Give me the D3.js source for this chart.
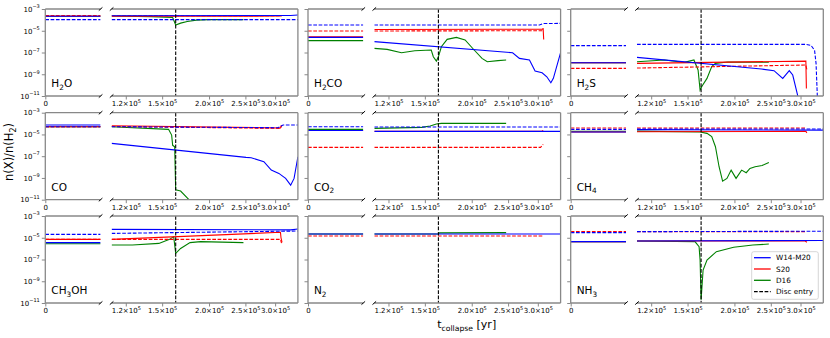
<!DOCTYPE html>
<html>
<head>
<meta charset="utf-8">
<script src="https://cdn.jsdelivr.net/npm/d3@7"></script>
<style>
  body { margin: 0; background: #fff; }
  svg { display: block; font-family: "DejaVu Sans", sans-serif; }
</style>
</head>
<body>
<svg id="fig" width="830" height="338"></svg>
<script>
const models = ["W14-M20", "S20", "D16"];
const modelColors = ["#0000ff", "#ff0000", "#008000"];
const species = ["H2O", "H2CO", "H2S", "CO", "CO2", "CH4", "CH3OH", "N2", "NH3"];
const xTicks = [1.2e5, 1.5e5, 2.0e5, 2.5e5, 3.0e5];
const yTicks = [1e-3, 1e-5, 1e-7, 1e-9, 1e-11];
const discEntry = 1.63e5;

// series: [model, dashed, log10 value at t=0, [[t / 1e5 yr, log10 n(X)/n(H2)], ...]]
const H2O = [
  ["D16", false, -3.67, [[1.1, -3.64], [1.4, -3.7], [1.6, -3.78], [1.63, -4.47], [1.68, -4.3], [1.75, -4.15], [1.85, -4.02], [2.0, -3.98], [2.47, -3.98]]],
  ["S20", false, -3.67, [[1.1, -3.67], [3.05, -3.65], [3.1, -3.62], [3.12, -3.68]]],
  ["S20", true, -3.6, [[1.1, -3.62], [3.1, -3.62]]],
  ["W14-M20", false, -3.67, [[1.1, -3.62], [3.3, -3.6], [3.45, -3.55]]],
  ["W14-M20", true, -3.98, [[1.1, -3.98], [3.45, -3.98]]]
];
const H2CO = [
  ["D16", false, -5.91, [[1.1, -6.62], [1.19, -6.71], [1.3, -7.02], [1.41, -6.84], [1.56, -6.77], [1.58, -7.39], [1.61, -7.79], [1.63, -7.4], [1.66, -6.47], [1.72, -5.79], [1.82, -5.61], [1.92, -5.85], [2.03, -6.77], [2.13, -7.54], [2.2, -7.85], [2.35, -7.75], [2.47, -7.69]]],
  ["S20", false, -5.55, [[1.1, -4.88], [3.08, -4.85], [3.1, -4.82], [3.11, -5.8]]],
  ["S20", true, -5.02, [[1.1, -5.02], [3.1, -5.0]]],
  ["W14-M20", false, -5.61, [[1.1, -6.0], [2.57, -7.02], [2.68, -7.54], [2.85, -7.69], [2.95, -8.7], [3.08, -8.86], [3.17, -9.23], [3.25, -9.78], [3.3, -9.38], [3.45, -7.02]]],
  ["W14-M20", true, -4.47, [[1.1, -4.47], [3.03, -4.47], [3.1, -4.34], [3.45, -4.32]]]
];
const H2S = [
  ["D16", false, -7.94, [[1.1, -7.85], [1.3, -7.69], [1.47, -7.91], [1.56, -7.69], [1.6, -8.61], [1.62, -10.45], [1.64, -10.08], [1.69, -9.38], [1.74, -8.3], [1.78, -8.0], [1.92, -7.88], [2.47, -7.9]]],
  ["S20", false, -7.94, [[1.1, -8.0], [3.1, -7.79], [3.11, -10.3]]],
  ["S20", true, -8.46, [[1.1, -8.43], [3.1, -8.15], [3.12, -8.6]]],
  ["W14-M20", false, -7.94, [[1.1, -7.45], [2.36, -8.52], [2.55, -8.67], [2.69, -9.38], [2.8, -8.67], [2.86, -9.07], [2.96, -11.2]]],
  ["W14-M20", true, -6.37, [[1.1, -6.25], [3.1, -6.25], [3.2, -6.35], [3.27, -6.8], [3.3, -8.0], [3.33, -11.5]]]
];
const CO = [
  ["D16", false, -4.29, [[1.1, -4.29], [1.56, -4.53], [1.59, -5.06], [1.6, -6.0], [1.62, -6.13], [1.63, -10.1], [1.68, -10.2], [1.78, -11.1]]],
  ["S20", false, -4.29, [[1.1, -4.2], [3.1, -4.4], [3.12, -4.2]]],
  ["S20", true, -4.29, [[1.1, -4.27], [3.1, -4.44], [3.12, -4.15]]],
  ["W14-M20", false, -4.13, [[1.1, -5.82], [2.51, -7.11], [2.59, -7.14], [2.8, -7.5], [2.93, -8.28], [3.07, -8.58], [3.2, -9.04], [3.3, -9.66], [3.37, -9.04], [3.45, -7.05]]],
  ["W14-M20", true, -4.29, [[1.1, -4.29], [3.05, -4.38], [3.15, -4.13], [3.45, -4.13]]]
];
const CO2 = [
  ["D16", false, -4.53, [[1.1, -4.44], [1.47, -4.35], [1.55, -4.23], [1.61, -4.04], [1.66, -3.98], [2.47, -3.98]]],
  ["S20", false, -4.63, [[1.1, -4.7], [3.08, -4.7], [3.1, -4.62]]],
  ["S20", true, -6.19, [[1.1, -6.19], [3.05, -6.19], [3.1, -5.91]]],
  ["W14-M20", false, -4.63, [[1.1, -4.72], [3.45, -4.72]]],
  ["W14-M20", true, -4.29, [[1.1, -4.32], [3.45, -4.32]]]
];
const CH4 = [
  ["D16", false, -4.7, [[1.1, -4.69], [1.62, -4.78], [1.69, -4.9], [1.74, -5.2], [1.78, -6.13], [1.82, -7.97], [1.86, -9.29], [1.91, -9.04], [1.96, -8.28], [2.02, -9.04], [2.09, -8.28], [2.15, -8.52], [2.2, -8.12], [2.27, -7.97], [2.37, -7.85], [2.47, -7.57]]],
  ["S20", false, -4.78, [[1.1, -4.75], [3.1, -4.72], [3.12, -4.85]]],
  ["S20", true, -4.41, [[1.1, -4.41], [3.1, -4.41]]],
  ["W14-M20", false, -4.78, [[1.1, -4.56], [3.45, -4.6]]],
  ["W14-M20", true, -4.53, [[1.1, -4.5], [3.45, -4.5]]]
];
const CH3OH = [
  ["D16", false, -5.55, [[1.1, -5.67], [1.25, -5.67], [1.47, -5.52], [1.57, -5.15], [1.61, -4.9], [1.63, -6.44], [1.68, -5.98], [1.78, -5.45], [1.9, -5.36], [2.47, -5.45]]],
  ["S20", false, -5.15, [[1.1, -5.15], [3.1, -4.5], [3.11, -5.0], [3.13, -5.42]]],
  ["S20", true, -5.15, [[1.1, -5.15], [3.1, -5.15], [3.12, -5.5]]],
  ["W14-M20", false, -5.45, [[1.1, -4.23], [3.3, -4.28], [3.45, -4.2]]],
  ["W14-M20", true, -4.69, [[1.1, -4.6], [3.45, -4.38]]]
];
const N2 = [
  ["D16", false, -4.66, [[1.1, -4.66], [1.63, -4.66], [1.64, -4.55], [2.47, -4.53]]],
  ["S20", true, -4.84, [[1.1, -4.84], [3.1, -4.84]]],
  ["W14-M20", false, -4.66, [[1.1, -4.66], [3.45, -4.66]]]
];
const NH3 = [
  ["D16", false, -5.36, [[1.1, -5.3], [1.57, -5.36], [1.61, -5.82], [1.62, -7.05], [1.63, -10.7], [1.65, -7.97], [1.69, -7.05], [1.79, -6.28], [1.99, -5.88], [2.24, -5.67], [2.47, -5.58]]],
  ["S20", false, -5.36, [[1.1, -5.3], [3.08, -5.28], [3.12, -5.42]]],
  ["S20", true, -4.44, [[1.1, -4.44], [3.1, -4.44]]],
  ["W14-M20", false, -5.36, [[1.1, -5.3], [3.45, -5.25]]],
  ["W14-M20", true, -4.53, [[1.1, -4.44], [3.45, -4.4]]]
];
const panels = [H2O, H2CO, H2S, CO, CO2, CH4, CH3OH, N2, NH3];

// layout
const colX = [45.3, 308, 570.7];
const rowY = [9, 112.7, 216];
const leftW = 55.3, gap = 11, rightW = 186.3, panelH = 87;
const spine = "#888";

const svg = d3.select("#fig");
svg.append("rect").attr("width", 830).attr("height", 338).attr("fill", "#fff");

const color = d3.scaleOrdinal().domain(models).range(modelColors);
const y = d3.scaleLog().domain([1e-11, 1e-3]).range([panelH, 0]);
const xL = d3.scaleLinear().domain([0, 1]).range([0, leftW]);
const xR = d3.scaleLog().domain([1.1e5, 3.45e5]).range([0, rightW]);

const lineR = d3.line()
  .x(d => xR(d[0] * 1e5))
  .y(d => y(Math.pow(10, d[1])));

function styleAxis(g) {
  g.select(".domain").remove();
  g.selectAll(".tick line").attr("stroke", spine).attr("stroke-width", 1);
  g.selectAll(".tick text").attr("fill", "#000").attr("font-size", 7)
    .attr("font-family", "DejaVu Sans, sans-serif");
}

function chemLabel(sel, name, size) {
  let sub = false;
  for (const ch of name) {
    const isDigit = /[0-9]/.test(ch);
    const ts = sel.append("tspan").text(ch);
    if (isDigit && !sub) { ts.attr("dy", 2.5).attr("font-size", size * 0.7); sub = true; }
    else if (isDigit) { ts.attr("font-size", size * 0.7); }
    else if (sub) { ts.attr("dy", -2.5); sub = false; }
  }
}

function breakMark(g, x, yy) {
  g.append("line")
    .attr("x1", x - 1.8).attr("y1", yy + 1.6)
    .attr("x2", x + 1.8).attr("y2", yy - 1.6)
    .attr("stroke", "#000").attr("stroke-width", 1);
}

panels.forEach((series, i) => {
  const col = i % 3, row = Math.floor(i / 3);
  const g = svg.append("g").attr("transform", `translate(${colX[col]},${rowY[row]})`);
  const gL = g.append("g");
  const gR = g.append("g").attr("transform", `translate(${leftW + gap},0)`);

  gL.append("clipPath").attr("id", "cl" + i)
    .append("rect").attr("width", leftW).attr("height", panelH);
  gR.append("clipPath").attr("id", "cr" + i)
    .append("rect").attr("width", rightW).attr("height", panelH);

  const order = series.slice();
  const pL = gL.append("g").attr("clip-path", `url(#cl${i})`);
  const pR = gR.append("g").attr("clip-path", `url(#cr${i})`);

  order.forEach(s => {
    const [model, dashed, init, pts] = s;
    pL.append("line")
      .attr("x1", xL(0)).attr("x2", xL(1))
      .attr("y1", y(Math.pow(10, init))).attr("y2", y(Math.pow(10, init)))
      .attr("stroke", color(model)).attr("stroke-width", 1.1)
      .attr("stroke-dasharray", dashed ? "3.7,1.6" : null);
    pR.append("path")
      .datum(pts)
      .attr("d", lineR)
      .attr("fill", "none")
      .attr("stroke", color(model)).attr("stroke-width", 1.1)
      .attr("stroke-dasharray", dashed ? "3.7,1.6" : null);
  });

  // disc entry
  pR.append("line")
    .attr("x1", xR(discEntry)).attr("x2", xR(discEntry))
    .attr("y1", 0).attr("y2", panelH)
    .attr("stroke", "#000").attr("stroke-width", 1.1)
    .attr("stroke-dasharray", "3.7,1.6");

  // spines
  const sp = (gg, x1, y1, x2, y2) => gg.append("line")
    .attr("x1", x1).attr("y1", y1).attr("x2", x2).attr("y2", y2)
    .attr("stroke", spine).attr("stroke-width", 1.3);
  sp(gL, 0, 0, leftW, 0); sp(gL, 0, panelH, leftW, panelH); sp(gL, 0, 0, 0, panelH);
  sp(gR, 0, 0, rightW, 0); sp(gR, 0, panelH, rightW, panelH); sp(gR, rightW, 0, rightW, panelH);
  breakMark(gL, leftW, 0); breakMark(gL, leftW, panelH);
  breakMark(gR, 0, 0); breakMark(gR, 0, panelH);

  // axes
  gL.append("g").attr("transform", `translate(0,${panelH})`)
    .call(d3.axisBottom(xL).tickValues([0]).tickFormat(d3.format("d"))
      .tickSize(3.5).tickSizeOuter(0).tickPadding(2))
    .call(styleAxis);

  gR.append("g").attr("transform", `translate(0,${panelH})`)
    .call(d3.axisBottom(xR).tickValues(xTicks).tickSize(3.5).tickSizeOuter(0).tickPadding(2))
    .call(styleAxis)
    .selectAll(".tick text").each(function(d) {
      const t = d3.select(this).text(null);
      t.append("tspan").text((d / 1e5).toFixed(1) + "×10");
      t.append("tspan").attr("dy", -3).attr("font-size", 5).text("5");
    });

  const yAx = gL.append("g")
    .call(d3.axisLeft(y).tickValues(yTicks).tickSize(3.5).tickSizeOuter(0).tickPadding(2))
    .call(styleAxis);
  if (col === 0) {
    yAx.selectAll(".tick text").each(function(d) {
      const t = d3.select(this).text(null);
      t.append("tspan").text("10");
      t.append("tspan").attr("dy", -3.5).attr("font-size", 5)
        .text("\u2212" + Math.round(-Math.log10(d)));
    });
  } else {
    yAx.selectAll(".tick text").remove();
  }

  // species label
  gL.append("text").attr("x", 6).attr("y", panelH - 9)
    .attr("font-size", 10.5)
    .call(sel => chemLabel(sel, species[i], 10.5));

  // legend in the last panel
  if (i === panels.length - 1) {
    const lg = gR.append("g").attr("transform", "translate(114.7,35.7)");
    lg.append("rect").attr("width", 66.6).attr("height", 47.6).attr("rx", 2)
      .attr("fill", "#fff").attr("fill-opacity", 0.8)
      .attr("stroke", "#ccc").attr("stroke-width", 0.8);
    const items = models.map(m => ({ label: m, color: color(m), dashed: false }))
      .concat([{ label: "Disc entry", color: "#000", dashed: true }]);
    items.forEach((it, k) => {
      const yy = 6 + k * 11.3;
      lg.append("line").attr("x1", 2.3).attr("x2", 19).attr("y1", yy).attr("y2", yy)
        .attr("stroke", it.color).attr("stroke-width", 1.3)
        .attr("stroke-dasharray", it.dashed ? "3.7,1.6" : null);
      lg.append("text").attr("x", 24.3).attr("y", yy).attr("dy", "0.35em")
        .attr("font-size", 7.3).text(it.label);
    });
  }
});

// axis titles
const yl = svg.append("text")
  .attr("transform", "translate(13,152) rotate(-90)")
  .attr("text-anchor", "middle").attr("font-size", 11.5);
yl.append("tspan").text("n(X)/n(H");
yl.append("tspan").attr("dy", 2.5).attr("font-size", 8).text("2");
yl.append("tspan").attr("dy", -2.5).text(")");

const xl = svg.append("text")
  .attr("x", 466.7).attr("y", 328)
  .attr("text-anchor", "middle").attr("font-size", 11);
xl.append("tspan").text("t");
xl.append("tspan").attr("dy", 2.5).attr("font-size", 7.7).text("collapse");
xl.append("tspan").attr("dy", -2.5).text(" [yr]");
</script>
</body>
</html>
